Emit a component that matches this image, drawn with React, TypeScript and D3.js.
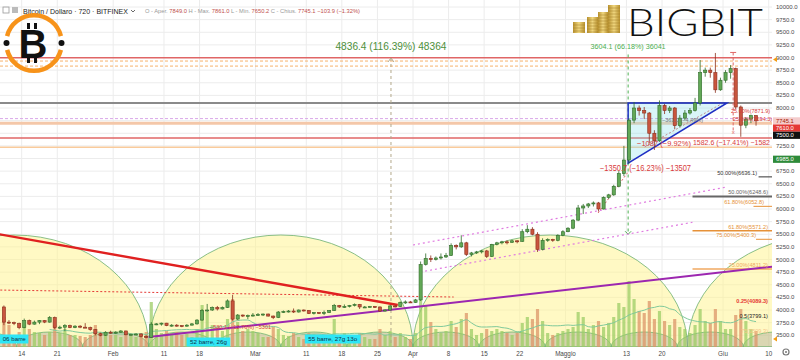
import React from "react";
import * as d3 from "d3";

const START = "2019-01-10";
const FIRST_OPEN = 4060;

const closes = [
  3760, 3750, 3730, 3650, 3790, 3720, 3760, 3790, 3760, 3850, 3650, 3660, 3690, 3650, 3680, 3660, 3650, 3610, 3530, 3500, 3560, 3545,
  3560, 3585, 3510, 3515, 3525, 3475, 3460, 3720, 3725, 3740, 3690, 3700, 3690, 3680, 3700, 3725, 3800, 3990, 4000, 4050, 4020, 4050, 4180, 3820, 3900, 3880, 3890, 3900,
  3910, 3920, 3880, 3850, 3960, 3970, 3980, 3960, 4000, 3990, 3930, 3950, 3940, 3950, 3990, 4090, 4060, 4070, 4090, 4110, 4060, 4060, 4070, 4060, 3980, 4000, 4080, 4070, 4150, 4160, 4150,
  4200, 4900, 5020, 5000, 5030, 5050, 5080, 5280, 5250, 5330, 5100, 5130, 5150, 5170, 5060, 5300, 5330, 5350, 5340, 5370, 5360, 5550, 5600, 5500, 5200, 5380, 5400, 5380, 5480, 5550,
  5620, 5780, 6020, 6060, 6100, 6120, 6000, 6230, 6280, 6450, 6700, 6970, 7760, 8000, 7950, 7900, 7500, 7350, 8050, 7950, 8000, 7650, 7800, 7900, 7950, 8100, 8700, 8750, 8700, 8360, 8550,
  8700, 8780, 8020, 7660, 7780, 7849, 7745.1,
];
const highs = [
  4090, 3800, 3770, 3750, 3830, 3810, 3790, 3800, 3800, 3880, 3870, 3690, 3720, 3710, 3700, 3700, 3740, 3670, 3620, 3550, 3580, 3590,
  3580, 3600, 3590, 3530, 3540, 3535, 3500, 3760, 3740, 3750, 3745, 3720, 3720, 3700, 3720, 3740, 3820, 4020, 4120, 4070, 4080, 4070, 4210, 4300, 3920, 3910, 3910, 3940,
  3940, 3930, 3930, 3890, 3980, 3990, 4000, 4030, 4010, 4010, 4000, 3960, 3960, 3990, 4000, 4120, 4100, 4110, 4100, 4130, 4120, 4080, 4080, 4080, 4070, 4010, 4100, 4090, 4170, 4190, 4180,
  4220, 4960, 5120, 5080, 5060, 5120, 5130, 5320, 5300, 5480, 5350, 5150, 5170, 5190, 5190, 5310, 5350, 5370, 5380, 5390, 5380, 5600, 5680, 5640, 5540, 5420, 5420, 5410, 5500, 5580,
  5640, 5800, 6080, 6100, 6120, 6150, 6140, 6250, 6300, 6480, 6750, 7250, 7800, 8120, 8050, 8020, 7920, 7560, 8150, 8080, 8040, 8020, 7860, 7960, 8000, 8200, 8950, 8800, 8800, 9090, 8600,
  8750, 8850, 8800, 8050, 7820, 7870, 7861,
];
const lows = [
  3700, 3720, 3700, 3620, 3640, 3700, 3710, 3720, 3740, 3750, 3620, 3620, 3580, 3640, 3640, 3640, 3650, 3590, 3500, 3480, 3490, 3530,
  3530, 3550, 3500, 3500, 3505, 3460, 3440, 3450, 3700, 3690, 3680, 3670, 3670, 3660, 3670, 3695, 3710, 3790, 3960, 3980, 3990, 4010, 4040, 3790, 3800, 3860, 3820, 3870,
  3890, 3880, 3870, 3820, 3840, 3940, 3950, 3940, 3950, 3970, 3920, 3910, 3920, 3900, 3940, 3980, 4040, 4040, 4050, 4070, 4020, 4040, 4050, 4040, 3960, 3970, 3990, 4050, 4060, 4120, 4140,
  4140, 4180, 4880, 4950, 4980, 5000, 5030, 5070, 5200, 5230, 5070, 5060, 5110, 5120, 5030, 5050, 5280, 5300, 5300, 5330, 5320, 5350, 5520, 5480, 5150, 5180, 5350, 5350, 5360, 5460,
  5540, 5600, 5760, 5900, 6020, 6050, 5950, 5990, 6200, 6260, 6430, 6650, 6900, 7700, 7850, 7780, 7300, 7170, 7330, 7880, 7900, 7580, 7620, 7760, 7870, 7930, 8050, 8620, 8600, 8300, 8340,
  8500, 8580, 7980, 7430, 7600, 7700, 7650.2,
];
const volumes = [
  30, 22, 12, 15, 22, 18, 15, 14, 12, 15, 22, 14, 18, 12, 12, 11, 10, 12, 22, 15, 14, 12,
  12, 10, 12, 11, 10, 14, 15, 45, 18, 14, 16, 14, 15, 12, 13, 10, 18, 42, 35, 22, 20, 16, 28, 48, 25, 16, 18, 16,
  14, 10, 10, 20, 18, 12, 11, 14, 10, 8, 14, 13, 10, 12, 12, 28, 10, 14, 12, 12, 14, 10, 8, 8, 18, 12, 16, 10, 14, 10, 8,
  14, 50, 42, 25, 18, 14, 16, 26, 20, 28, 34, 18, 12, 14, 18, 16, 18, 16, 14, 12, 14, 24, 30, 28, 38, 26, 14, 12, 14, 16,
  18, 20, 35, 30, 18, 22, 26, 20, 24, 30, 44, 40, 66, 48, 36, 34, 46, 28, 36, 26, 22, 28, 20, 18, 14, 22, 38, 26, 24, 38, 26,
  18, 18, 32, 38, 26, 18, 16,
];

const priceTicks = d3.range(3500, 10001, 250);
const dateTicks: [string, string][] = [
  ["2019-01-14", "14"], ["2019-01-21", "21"], ["2019-02-01", "Feb"], ["2019-02-11", "11"], ["2019-02-18", "18"],
  ["2019-03-01", "Mar"], ["2019-03-11", "11"], ["2019-03-18", "18"], ["2019-03-25", "25"], ["2019-04-01", "Apr"],
  ["2019-04-08", "8"], ["2019-04-15", "15"], ["2019-04-22", "22"], ["2019-05-01", "Maggio"], ["2019-05-13", "13"],
  ["2019-05-20", "20"], ["2019-06-01", "Giu"], ["2019-06-10", "10"],
];

const bigCycleBounds = ["2018-12-17", "2019-02-08", "2019-04-01", "2019-05-25", "2019-07-18"];
const smallCycleBounds = [
  "2018-12-31", "2019-01-13", "2019-01-26", "2019-02-08", "2019-02-21", "2019-03-06", "2019-03-19",
  "2019-04-01", "2019-04-14", "2019-04-27", "2019-05-10", "2019-05-23", "2019-06-05", "2019-06-18",
];

const levelPrices = [8995, 8930, 8830, 8100, 7790, 7700, 7405, 7225];
const levelStyles = [
  { c: "#e06666", w: 1.5, dash: "" },
  { c: "#f6b26b", w: 1, dash: "3,2" },
  { c: "#f6b26b", w: 1, dash: "3,2" },
  { c: "#8a8a8a", w: 2, dash: "" },
  { c: "#d9a6e8", w: 1, dash: "3,2" },
  { c: "#f4c7a8", w: 3, dash: "" },
  { c: "#e06666", w: 1.5, dash: "" },
  { c: "#f9cb9c", w: 1.5, dash: "" },
];

const redTrend: [string, number][] = [["2019-01-09", 5510], ["2019-03-29", 4100]];
const purpleTrend: [string, number][] = [["2019-02-08", 3465], ["2019-06-12", 4874]];
const redDotted: [string, number][] = [["2019-01-09", 4396], ["2019-04-09", 4257]];
const channelUpper: [string, number][] = [["2019-04-01", 5287], ["2019-06-01T19:00:00Z", 6436]];
const channelLower: [string, number][] = [["2019-04-02T10:00:00Z", 4752], ["2019-05-26", 5737]];
const diagA: [string, number][] = [["2019-05-07T10:00:00Z", 5921], ["2019-05-13T08:00:00Z", 6733]];
const diagB: [string, number][] = [["2019-05-16T14:00:00Z", 7228], ["2019-06-01", 8100]];
const triangle: [string, number][] = [["2019-05-13T08:00:00Z", 8100], ["2019-06-01T19:00:00Z", 8100], ["2019-05-13T08:00:00Z", 6910]];
const greyVLine: [string, number] = ["2019-03-27T16:00:00Z", 8990];
const greenVLine: [string, number, number] = ["2019-05-13T08:00:00Z", 9060, 5500];
const redVLine: [string, number, number] = ["2019-06-03", 9100, 7520];

const fibLevels = [
  { t: "50.00%(6636.1)", p: 6636.1, c: "#333", from: "2019-06-08", end: 757, lw: 1 },
  { t: "50.00%(6248.6)", p: 6248.6, c: "#666", from: "2019-05-26", end: 768, lw: 2 },
  { t: "61.80%(6052.8)", p: 6052.8, c: "#e69138", from: "2019-06-07", end: 764, lw: 1 },
  { t: "61.80%(5571.2)", p: 5571.2, c: "#e69138", from: "2019-05-26", end: 768, lw: 1.5 },
  { t: "75.00%(5400.3)", p: 5400.3, c: "#e69138", from: "2019-06-07T12:00:00Z", end: 756, lw: 1 },
  { t: "75.00%(4811.2)", p: 4811.2, c: "#f0a860", from: "2019-05-26", end: 768, lw: 1.5 },
  { t: "0.25(4089.3)", p: 4089.3, c: "#e53935", from: "", end: 768, lw: 0 },
  { t: "0.5(3799.1)", p: 3799.1, c: "#222", from: "", end: 768, lw: 0 },
  { t: "75(3509.3)", p: 3509.3, c: "#f5c48a", from: "", end: 768, lw: 0 },
];

const priceBoxes = [
  { p: 7745.1, bg: "#f4cccc", fg: "#a61c00" },
  { p: 7610.0, bg: "#e53935", fg: "#fff" },
  { p: 7500.0, bg: "#111", fg: "#fff" },
  { p: 6985.0, bg: "#2e8b3a", fg: "#fff" },
];

const barBoxes = [
  { t: "06 barre", d: "2019-01-14T12:00:00Z", anchor: "end", y: 339 },
  { t: "52 barre, 26g", d: "2019-02-19T18:00:00Z", anchor: "middle", y: 342 },
  { t: "55 barre, 27g 13o", d: "2019-03-16T05:00:00Z", anchor: "middle", y: 339 },
];

const FONT = "'Liberation Sans', Arial, sans-serif";
const PR = 772;
const PB = 347;

export default function App() {
  const parse = d3.utcParse("%Y-%m-%d");
  const pd = (s: string) => (s.length > 10 ? new Date(s) : (parse(s) as Date));
  const x = d3.scaleUtc().domain([pd("2019-04-01"), pd("2019-06-01")]).range([413, 723]);
  const y = d3.scaleLinear().domain([10000, 3500]).range([7, 335.25]);
  const yVol = d3.scaleLinear().domain([0, 100]).range([PB, PB - 100]);
  const start = pd(START);

  const candles = closes.map((c, i) => {
    const d = d3.utcDay.offset(start, i);
    return { d, o: i === 0 ? FIRST_OPEN : closes[i - 1], h: highs[i], l: lows[i], c, v: volumes[i] };
  });
  const dayW = x(d3.utcDay.offset(start, 1)) - x(start);
  const cx = (d: Date) => x(d3.utcHour.offset(d, 12));
  const bw = dayW * 0.62;

  const ma = candles.map((c, i) => (i < 9 ? null : (d3.mean(volumes.slice(i - 9, i + 1)) as number)));
  const maLine = d3
    .line<number | null>()
    .defined((v) => v !== null)
    .x((_, i) => cx(candles[i].d))
    .y((v) => yVol(v as number))
    .curve(d3.curveMonotoneX)(ma);

  const seg = (pts: [string, number][]) => {
    const [a, b] = pts;
    return { x1: x(pd(a[0])), y1: y(a[1]), x2: x(pd(b[0])), y2: y(b[1]) };
  };

  const arcPath = (a: string, b: string, h: number) => {
    const x0 = x(pd(a));
    const x1 = x(pd(b));
    const rx = (x1 - x0) / 2;
    return `M${x0},${PB} A${rx},${h} 0 0 1 ${x1},${PB} Z`;
  };

  const tri = triangle.map(([d, p]) => `${x(pd(d))},${y(p)}`).join(" ");
  const rt = seg(redTrend);
  const pt = seg(purpleTrend);
  const rd = seg(redDotted);
  const cu = seg(channelUpper);
  const cl = seg(channelLower);
  const da = seg(diagA);
  const db = seg(diagB);
  const gvx = x(pd(greyVLine[0]));
  const gnx = x(pd(greenVLine[0]));
  const rvx = x(pd(redVLine[0]));

  const up = { fill: "#62a857", stroke: "#2f6b28" };
  const dn = { fill: "#c9553e", stroke: "#8a2e1c" };

  const boxY: number[] = [];
  priceBoxes.forEach((b, i) => {
    let yy = y(b.p);
    if (i > 0 && yy < boxY[i - 1] + 7.2) yy = boxY[i - 1] + 7.2;
    boxY.push(yy);
  });
  const visibleTicks = priceTicks.filter((p) => !boxY.some((by) => Math.abs(by - y(p)) < 8));

  const ringArc = d3.arc<any>().innerRadius(25.5).outerRadius(30);
  const ringTop = ringArc({ startAngle: -1.32, endAngle: 1.32 }) as string;
  const ringBot = ringArc({ startAngle: Math.PI - 1.32, endAngle: Math.PI + 1.32 }) as string;

  return (
    <svg width={800} height={360} style={{ position: "absolute", left: 0, top: 0, fontFamily: FONT }}>
      <defs>
        <clipPath id="plot">
          <rect x={0} y={0} width={PR} height={PB} />
        </clipPath>
        <linearGradient id="gold" x1="0" x2="1" y1="0" y2="0">
          <stop offset="0" stopColor="#b8912e" />
          <stop offset="0.5" stopColor="#f0d780" />
          <stop offset="1" stopColor="#b8912e" />
        </linearGradient>
      </defs>
      <rect x={0} y={0} width={800} height={360} fill="#fff" />

      <g clipPath="url(#plot)">
        {priceTicks.map((p) => (
          <line key={"hg" + p} x1={0} x2={PR} y1={y(p)} y2={y(p)} stroke="#ececec" strokeWidth={1} />
        ))}
        {dateTicks.map(([d]) => (
          <line key={"vg" + d} x1={x(pd(d))} x2={x(pd(d))} y1={0} y2={PB} stroke="#ececec" strokeWidth={1} />
        ))}

        {bigCycleBounds.slice(0, -1).map((b, i) => (
          <path key={"bc" + i} d={arcPath(b, bigCycleBounds[i + 1], 112)} fill="#fff38a" fillOpacity={0.5} stroke="#7cb87c" strokeWidth={0.9} />
        ))}
        {smallCycleBounds.slice(0, -1).map((b, i) => (
          <path key={"sc" + i} d={arcPath(b, smallCycleBounds[i + 1], 15)} fill="#8f8f8f" fillOpacity={0.33} stroke="#6fb56f" strokeWidth={0.8} />
        ))}

        {candles.map((k, i) => (
          <rect
            key={"v" + i}
            x={cx(k.d) - bw / 2}
            y={yVol(k.v)}
            width={bw}
            height={PB - yVol(k.v)}
            fill={k.c >= k.o ? "#9ccc65" : "#dc9468"}
            fillOpacity={0.75}
          />
        ))}
        <path d={maLine || ""} fill="none" stroke="#7fc99a" strokeWidth={1} />

        {levelPrices.map((p, i) => (
          <line
            key={"lv" + i}
            x1={0}
            x2={PR}
            y1={y(p)}
            y2={y(p)}
            stroke={levelStyles[i].c}
            strokeWidth={levelStyles[i].w}
            strokeDasharray={levelStyles[i].dash || undefined}
          />
        ))}

        {fibLevels
          .filter((f) => f.from)
          .map((f, i) => (
            <line key={"fl" + i} x1={x(pd(f.from))} x2={PR} y1={y(f.p)} y2={y(f.p)} stroke={f.c} strokeWidth={f.lw} />
          ))}

        <line x1={gvx} x2={gvx} y1={y(greyVLine[1])} y2={PB} stroke="#b3a88a" strokeWidth={1} strokeDasharray="3,3" />
        <path d={`M${gvx - 3},${y(greyVLine[1]) + 4} L${gvx},${y(greyVLine[1])} L${gvx + 3},${y(greyVLine[1]) + 4}`} fill="none" stroke="#b3a88a" />
        <line x1={gnx} x2={gnx} y1={y(greenVLine[1])} y2={y(greenVLine[2])} stroke="#4caf50" strokeWidth={1} strokeDasharray="3,3" />
        <path d={`M${gnx - 3},${y(greenVLine[2]) - 3} L${gnx},${y(greenVLine[2])} L${gnx + 3},${y(greenVLine[2]) - 3}`} fill="none" stroke="#4caf50" />

        <line {...cu} stroke="#e07be0" strokeWidth={1.2} strokeDasharray="2,3" />
        <line {...cl} stroke="#e07be0" strokeWidth={1.2} strokeDasharray="2,3" />
        <line {...rd} stroke="#e53935" strokeWidth={1} strokeDasharray="2,2" />
        <line {...da} stroke="#e06666" strokeWidth={1} strokeDasharray="2,2" />
        <line {...db} stroke="#e06666" strokeWidth={1} strokeDasharray="2,2" />

        <polygon points={tri} fill="#80deea" fillOpacity={0.3} stroke="#1f2fc4" strokeWidth={1.5} />

        <line {...rt} stroke="#e02020" strokeWidth={2.4} />
        <line {...pt} stroke="#9c27b0" strokeWidth={2} />

        {candles.map((k, i) => {
          const col = k.c >= k.o ? up : dn;
          const top = y(Math.max(k.o, k.c));
          const bot = y(Math.min(k.o, k.c));
          const xc = cx(k.d);
          return (
            <g key={"c" + i}>
              <line x1={xc} x2={xc} y1={y(k.h)} y2={y(k.l)} stroke={col.stroke} strokeWidth={0.8} />
              <rect x={xc - bw / 2} y={top} width={bw} height={Math.max(1, bot - top)} fill={col.fill} stroke={col.stroke} strokeWidth={0.6} />
            </g>
          );
        })}

        <line x1={rvx} x2={rvx} y1={y(redVLine[1])} y2={y(redVLine[2])} stroke="#e06666" strokeWidth={1} strokeDasharray="3,2" />
        <line x1={rvx - 3} x2={rvx + 3} y1={y(redVLine[1])} y2={y(redVLine[1])} stroke="#e06666" />
        <text x={rvx} y={y(redVLine[2]) + 2} fontSize={6} fill="#e06666" textAnchor="middle">x</text>

        {barBoxes.map((b, i) => {
          const bx = x(pd(b.d));
          const w = b.t.length * 3.05 + 4;
          const left = b.anchor === "end" ? Math.max(0, bx - w) : bx - w / 2;
          return (
            <g key={"bb" + i}>
              <rect x={left} y={b.y - 4.5} width={w} height={9} fill="#2ee6f5" />
              <text x={left + w / 2} y={b.y + 2.2} fontSize={6.2} textAnchor="middle" fill="#10314a">{b.t}</text>
            </g>
          );
        })}
      </g>

      <text x={gvx} y={50} fontSize={10.5} fill="#4d8f3a" textAnchor="middle" textLength={111} lengthAdjust="spacingAndGlyphs">
        4836.4 (116.39%) 48364
      </text>
      <text x={gnx} y={49} fontSize={6.5} fill="#4caf50" textAnchor="middle" textLength={75} lengthAdjust="spacingAndGlyphs">
        3604.1 (66.18%) 36041
      </text>
      <text x={600} y={171} fontSize={8.5} fill="#d83a3a" textLength={91} lengthAdjust="spacingAndGlyphs">
        −1350.7 (−16.23%) −13507
      </text>
      <text x={637} y={146} fontSize={8} fill="#d83a3a" textLength={54} lengthAdjust="spacingAndGlyphs">
        −1087 (−9.92%)
      </text>
      <text x={693} y={145} fontSize={7.2} fill="#d83a3a" textLength={77} lengthAdjust="spacingAndGlyphs">
        1582.6 (−17.41%) −1582
      </text>
      <text x={662} y={122} fontSize={5.5} fill="#777">−361.0 (−4.49%)</text>
      <text x={731} y={113} fontSize={5.5} fill="#d83a3a">25.00%(7871.9)</text>
      <text x={733} y={121} fontSize={5.5} fill="#d83a3a">25.00%(7594.3)</text>
      <text x={210} y={329} fontSize={5.5} fill="#d83a3a">−530.1 (−12.76%) −5301</text>

      {fibLevels.map((f, i) => (
        <text key={"ft" + i} x={f.end} y={y(f.p) - 2} fontSize={5.6} fill={f.c} textAnchor="end" fontWeight={f.t.startsWith("0.25") ? "bold" : "normal"}>
          {f.t}
        </text>
      ))}

      {visibleTicks.map((p) => (
        <text key={"pt" + p} x={776} y={y(p) + 2} fontSize={6} fill="#4a4a4a">
          {p.toFixed(1)}
        </text>
      ))}
      {priceBoxes.map((b, i) => (
        <g key={"pb" + i}>
          <rect x={773} y={boxY[i] - 3.6} width={27} height={7.2} fill={b.bg} />
          <text x={776} y={boxY[i] + 2} fontSize={5.8} fill={b.fg}>
            {b.p.toFixed(1)}
          </text>
        </g>
      ))}
      <path d={`M773,${y(8960)} l4,-2.5 l0,5 z`} fill="#f39c12" />
      <path d={`M773,${PB - 8} l4,-2.5 l0,5 z`} fill="#f39c12" />

      {dateTicks.map(([d, t]) => (
        <text key={"dt" + d} x={x(pd(d))} y={356} fontSize={6.3} fill="#4a4a4a" textAnchor="middle">
          {t}
        </text>
      ))}
      <circle cx={786} cy={352} r={3} fill="none" stroke="#777" strokeWidth={1.2} />
      <circle cx={786} cy={352} r={1} fill="#777" />

      <rect x={3} y={7} width={6} height={6} fill="none" stroke="#999" strokeWidth={0.8} />
      <rect x={12} y={7} width={6} height={6} fill="#bbb" />
      <text x={23} y={14} fontSize={7.6} fill="#222" textLength={105} lengthAdjust="spacingAndGlyphs">
        Bitcoin / Dollaro · 720 · BITFINEX
      </text>
      <path d="M131,10 l2,2 l2,-2" fill="none" stroke="#444" strokeWidth={0.8} />
      <text x={145} y={13} fontSize={5.6} fill="#999" textLength={215} lengthAdjust="spacingAndGlyphs">
        O - Aper.<tspan fill="#c0504d"> 7849.0 </tspan> H - Max.<tspan fill="#c0504d"> 7861.0 </tspan> L - Min.<tspan fill="#c0504d"> 7650.2 </tspan> C - Chius.<tspan fill="#c0504d"> 7745.1 </tspan><tspan fill="#c0504d"> −103.9 (−1.32%)</tspan>
      </text>

      <g transform="translate(34,43)">
        <path d={ringTop} fill="#f7931a" />
        <path d={ringBot} fill="#f7931a" />
        <circle cx={-27.5} cy={0} r={3} fill="#111" />
        <circle cx={27.5} cy={0} r={3} fill="#111" />
        <rect x={-7} y={-20} width={3} height={6} fill="#111" />
        <rect x={0} y={-20} width={3} height={6} fill="#111" />
        <rect x={-7} y={14} width={3} height={6} fill="#111" />
        <rect x={0} y={14} width={3} height={6} fill="#111" />
        <text x={-1} y={15} fontSize={40} fontWeight="bold" fill="#111" textAnchor="middle">
          B
        </text>
      </g>

      {[
        [573, 585, 22],
        [587, 598, 17],
        [598, 608, 12],
        [608, 620, 5],
      ].map(([a, b, t], i) => (
        <g key={"coin" + i}>
          <rect x={a} y={t} width={b - a} height={33 - t} fill="url(#gold)" />
          {d3.range(t + 3, 33, 3).map((yy) => (
            <line key={yy} x1={a} x2={b} y1={yy} y2={yy} stroke="#a07d28" strokeWidth={0.5} />
          ))}
        </g>
      ))}
      <text x={627} y={36} fontSize={37} fontWeight={300} fill="#111" fontFamily="Lato, 'Open Sans', sans-serif" textLength={136} lengthAdjust="spacingAndGlyphs">
        BIGBIT
      </text>
    </svg>
  );
}
